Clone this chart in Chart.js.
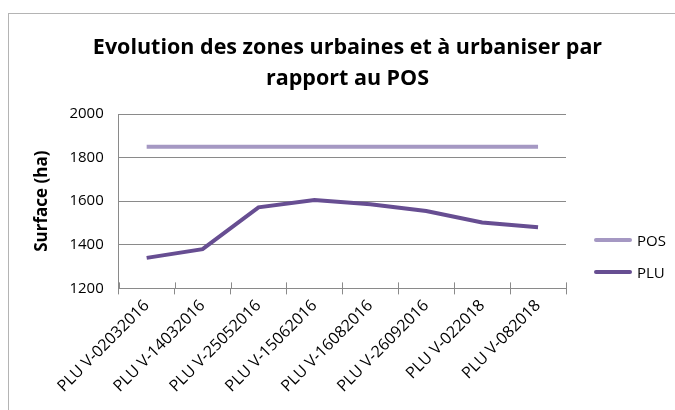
<!DOCTYPE html>
<html>
<head>
<meta charset="utf-8">
<script src="https://cdn.jsdelivr.net/npm/chart.js@4"></script>
<style>
  html, body { margin: 0; padding: 0; background: #fff; overflow: hidden; }
  #frame {
    position: absolute; left: 8px; top: 13px;
    width: 720px; height: 440px;
    border: 1px solid #b4b4b4;
    background: #fff;
  }
  #chart { display: block; margin-left: -5px; }
  #title {
    position: absolute; left: 0; top: 16px; width: 677px;
    text-align: center;
    font: bold 21.5px/31px "Open Sans", Lato, sans-serif; color: #000;
  }
  #legend {
    position: absolute; left: 585px; top: 210px;
    font: 15px "Open Sans", Lato, sans-serif; color: #000;
  }
  #legend .item { display: flex; align-items: center; height: 32px; }
  #legend .swatch { width: 38px; height: 4px; border-radius: 2px; margin-right: 5px; }
</style>
</head>
<body>
<div id="frame">
  <canvas id="chart" width="671" height="396"></canvas>
  <div id="title">Evolution des zones urbaines et à urbaniser par<br>rapport au POS</div>
  <div id="legend"></div>
</div>
<script>
// Versions du document d'urbanisme
const versions = [
  'PLU V-02032016', 'PLU V-14032016', 'PLU V-25052016', 'PLU V-15062016',
  'PLU V-16082016', 'PLU V-26092016', 'PLU V-022018', 'PLU V-082018',
];
// Surfaces des zones U + AU (ha)
const surfacePOS = [1850, 1850, 1850, 1850, 1850, 1850, 1850, 1850];
const surfacePLU = [1340, 1380, 1572, 1605, 1586, 1555, 1502, 1480];
const yTicks = { min: 1200, max: 2000, step: 200 };

const FONT = '"Open Sans", Lato, sans-serif';
const GRID = '#8a8a8a';

// small tick marks on the category axis, crossing the baseline
const crossTicks = {
  id: 'crossTicks',
  afterDatasetsDraw(chart) {
    const x = chart.scales.x;
    const ctx = chart.ctx;
    ctx.save();
    ctx.strokeStyle = GRID;
    ctx.lineWidth = 1;
    ctx.beginPath();
    for (let i = 0; i <= versions.length; i++) {
      const px = Math.round(x.getPixelForValue(i - 0.5)) + 0.5;
      ctx.moveTo(px, x.top - 6);
      ctx.lineTo(px, x.top);
    }
    ctx.stroke();
    ctx.restore();
  },
};

const chart = new Chart(document.getElementById('chart'), {
  type: 'line',
  data: {
    labels: versions,
    datasets: [
      { label: 'POS', data: surfacePOS, borderColor: '#a598c3', backgroundColor: '#a598c3',
        borderWidth: 4, pointRadius: 0, tension: 0 },
      { label: 'PLU', data: surfacePLU, borderColor: '#674e92', backgroundColor: '#674e92',
        borderWidth: 4, pointRadius: 0, tension: 0 },
    ],
  },
  plugins: [crossTicks],
  options: {
    responsive: false,
    animation: false,
    // top space is taken by the html title
    layout: { padding: { left: 23, right: 109, top: 100, bottom: 12 } },
    plugins: {
      legend: { display: false },
      tooltip: { enabled: false },
    },
    scales: {
      x: {
        offset: true,
        grid: { offset: true, drawOnChartArea: false, color: GRID, tickLength: 6 },
        border: { color: GRID },
        ticks: { color: '#000', font: { family: FONT, size: 16 }, maxRotation: 45, minRotation: 45, padding: 2 },
      },
      y: {
        min: yTicks.min,
        max: yTicks.max,
        grid: { color: GRID, drawTicks: false },
        border: { color: GRID },
        ticks: {
          stepSize: yTicks.step,
          color: '#000',
          font: { family: FONT, size: 15 },
          padding: 15,
          callback: v => String(v),
        },
        title: {
          display: true,
          text: 'Surface (ha)',
          color: '#000',
          font: { family: FONT, size: 17, weight: 'bold' },
          padding: { top: 5, bottom: 2 },
        },
      },
    },
  },
});

// legend built from the datasets
const legendEl = document.getElementById('legend');
chart.data.datasets.forEach(ds => {
  const item = document.createElement('div');
  item.className = 'item';
  const sw = document.createElement('span');
  sw.className = 'swatch';
  sw.style.background = ds.borderColor;
  const txt = document.createElement('span');
  txt.textContent = ds.label;
  item.append(sw, txt);
  legendEl.appendChild(item);
});
</script>
</body>
</html>
